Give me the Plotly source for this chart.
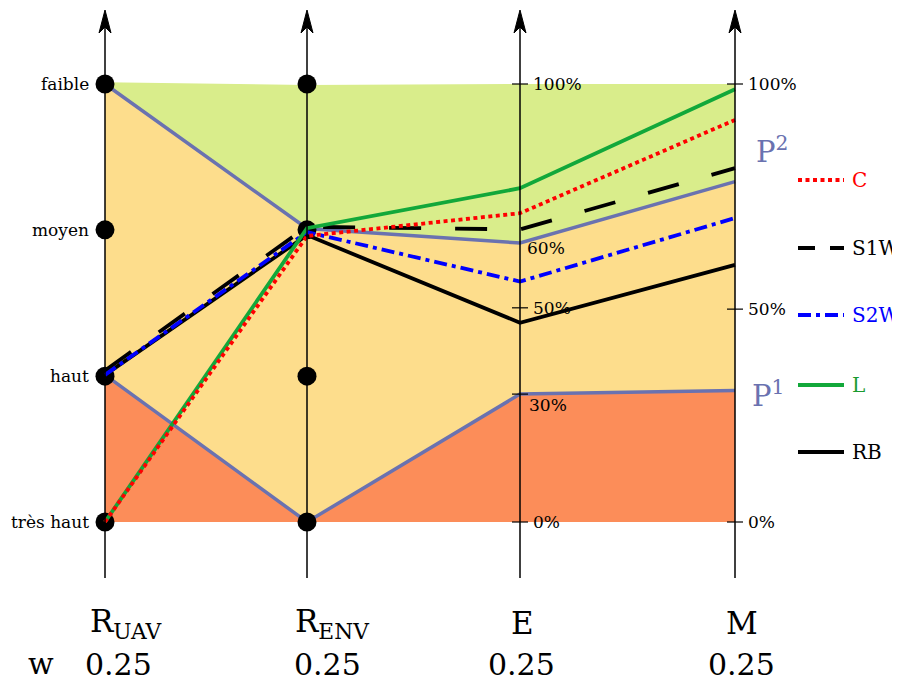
import plotly.graph_objects as go

# ---------------- data ----------------
criteria = ["R<sub>UAV</sub>", "R<sub>ENV</sub>", "E", "M"]
weights = ["0.25", "0.25", "0.25", "0.25"]
categories = ["très haut", "haut", "moyen", "faible"]
category_values = [0, 33.3, 66.7, 100]

series_names = ["C", "S1W", "S2W", "L", "RB"]
C_vals = [0, 65.3, 70.5, 91.8]
S1W_vals = [34.6, 67.4, 66.8, 80.8]
S2W_vals = [33.6, 66.2, 54.9, 69.4]
L_vals = [0, 67.1, 76.2, 98.8]
RB_vals = [33.6, 65.5, 45.5, 58.7]

top_vals = [100.4, 99.8, 100, 100]
P2_vals = [100, 67.0, 63.7, 77.7]
P1_vals = [33.6, 0, 29.2, 30.0]
bottom_vals = [0, 0, 0, 0]

E_tick_vals = [100, 48.9, 29.2, 0]
E_tick_text = ["100%", "50%", "30%", "0%"]
M_tick_vals = [100, 48.6, 0]
M_tick_text = ["100%", "50%", "0%"]

# ---------------- layout constants ----------------
AX = [105, 307, 520, 735]          # horizontal positions of the four axes (screen px)
PX0, PPU = 522, 4.38               # screen pixel of 0 %, pixels per unit
OFF = 8                            # default page body margin


def v(py):
    return (PX0 - py) / PPU


SERIF = "DejaVu Serif"
GREEN_FILL = "#d9ed8b"
YELLOW_FILL = "#fddd8c"
ORANGE_FILL = "#fc8d59"
PCOL = "#6a72b0"
LGREEN = "#12a83a"

styles = {
    "C": dict(color="#ff0000", dash="4px,3.5px", width=3.8),
    "S1W": dict(color="#000000", dash="32px,34px", width=3.8),
    "S2W": dict(color="#0000ff", dash="13px,5px,4px,5px", width=3.8),
    "L": dict(color=LGREEN, dash="solid", width=3.8),
    "RB": dict(color="#000000", dash="solid", width=3.8),
}
legend_dash = {"S1W": "17px,15px"}
text_colors = {"C": "#ff0000", "S1W": "#000000", "S2W": "#0000ff", "L": "#1a9a30", "RB": "#000000"}
values = {"C": C_vals, "S1W": S1W_vals, "S2W": S2W_vals, "L": L_vals, "RB": RB_vals}

fig = go.Figure()


def band(upper, lower, color):
    xs = AX + AX[::-1]
    ys = list(upper) + list(lower)[::-1]
    fig.add_trace(go.Scatter(x=xs, y=ys, fill="toself", fillcolor=color,
                             mode="none", hoverinfo="skip"))


band(top_vals, P2_vals, GREEN_FILL)
band(P2_vals, P1_vals, YELLOW_FILL)
band(P1_vals, bottom_vals, ORANGE_FILL)

shapes = []
# vertical axes with arrowheads
for x in AX:
    shapes.append(dict(type="line", xref="x", yref="y", x0=x, x1=x, y0=v(578), y1=v(28),
                       line=dict(color="black", width=1.5)))
    path = (f"M {x},{v(10)} L {x-6},{v(33)} L {x},{v(27)} L {x+6},{v(33)} Z")
    shapes.append(dict(type="path", xref="x", yref="y", path=path,
                       fillcolor="black", line=dict(color="black", width=1)))

# ticks on E and M
for x, tv in ((AX[2], E_tick_vals), (AX[3], M_tick_vals)):
    for t in tv:
        shapes.append(dict(type="line", xref="x", yref="y", x0=x - 8, x1=x + 8, y0=t, y1=t,
                           line=dict(color="black", width=1.2)))

# P boundaries
for pv in (P2_vals, P1_vals):
    fig.add_trace(go.Scatter(x=AX, y=pv, mode="lines", line=dict(color=PCOL, width=3.5),
                             hoverinfo="skip"))

# category markers on the first two axes
for x in AX[:2]:
    fig.add_trace(go.Scatter(x=[x] * len(category_values), y=category_values, mode="markers",
                             marker=dict(color="black", size=19), hoverinfo="skip"))

# series lines
for name in ["RB", "S1W", "S2W", "L", "C"]:
    s = styles[name]
    fig.add_trace(go.Scatter(x=AX, y=values[name], mode="lines",
                             line=dict(color=s["color"], dash=s["dash"], width=s["width"]),
                             hoverinfo="skip"))

annotations = []
# category labels
for cat, cv in zip(categories, category_values):
    annotations.append(dict(x=91, y=cv, xref="x", yref="y", text=cat, showarrow=False,
                            xanchor="right", yanchor="middle",
                            font=dict(family=SERIF, size=17, color="black")))

# tick labels on E and M
for x, tv, tt in ((AX[2], E_tick_vals, E_tick_text), (AX[3], M_tick_vals, M_tick_text)):
    for t, lab in zip(tv, tt):
        yy = t
        xx = x + 11
        if lab == "30%":
            yy = v(405)
            xx = x + 7
        annotations.append(dict(x=xx, y=yy, xref="x", yref="y", text=lab, showarrow=False,
                                xanchor="left", yanchor="middle",
                                font=dict(family=SERIF, size=17, color="black")))
annotations.append(dict(x=AX[2] + 5, y=v(248), xref="x", yref="y", text="60%", showarrow=False,
                        xanchor="left", yanchor="middle",
                        font=dict(family=SERIF, size=17, color="black")))

# P labels
annotations.append(dict(x=754, y=v(150), xref="x", yref="y", text="P<sup>2</sup>", showarrow=False,
                        xanchor="left", yanchor="middle", font=dict(family=SERIF, size=29, color=PCOL)))
annotations.append(dict(x=750, y=v(394), xref="x", yref="y", text="P<sup>1</sup>", showarrow=False,
                        xanchor="left", yanchor="middle", font=dict(family=SERIF, size=29, color=PCOL)))

# legend
legend_py = [180, 248, 315, 385, 452]
for name, py in zip(series_names, legend_py):
    s = styles[name]
    fig.add_trace(go.Scatter(x=[798, 844], y=[v(py), v(py)], mode="lines",
                             line=dict(color=s["color"], dash=legend_dash.get(name, s["dash"]),
                                       width=s["width"]),
                             hoverinfo="skip"))
    annotations.append(dict(x=850, y=v(py), xref="x", yref="y", text=name, showarrow=False,
                            xanchor="left", yanchor="middle",
                            font=dict(family=SERIF, size=20, color=text_colors[name])))

# criteria and weights
crit_x = [126, 332, 522, 742]
weight_x = [118, 327, 521, 741]
for cx, c in zip(crit_x, criteria):
    annotations.append(dict(x=cx, y=v(623), xref="x", yref="y", text=c, showarrow=False,
                            xanchor="center", yanchor="middle",
                            font=dict(family=SERIF, size=31, color="black")))
for wx, w in zip(weight_x, weights):
    annotations.append(dict(x=wx, y=v(664), xref="x", yref="y", text=w, showarrow=False,
                            xanchor="center", yanchor="middle",
                            font=dict(family=SERIF, size=30, color="black")))
annotations.append(dict(x=41, y=v(663), xref="x", yref="y", text="w", showarrow=False,
                        xanchor="center", yanchor="middle",
                        font=dict(family=SERIF, size=30, color="black")))

W, H = 900 - OFF, 681 - OFF
fig.update_layout(
    width=W, height=H, margin=dict(l=0, r=0, t=0, b=0),
    paper_bgcolor="white", plot_bgcolor="white", showlegend=False,
    xaxis=dict(range=[OFF, 900], visible=False, fixedrange=True),
    yaxis=dict(range=[v(681), v(OFF)], visible=False, fixedrange=True),
    shapes=shapes, annotations=annotations,
)

fig.write_html("out.html")
